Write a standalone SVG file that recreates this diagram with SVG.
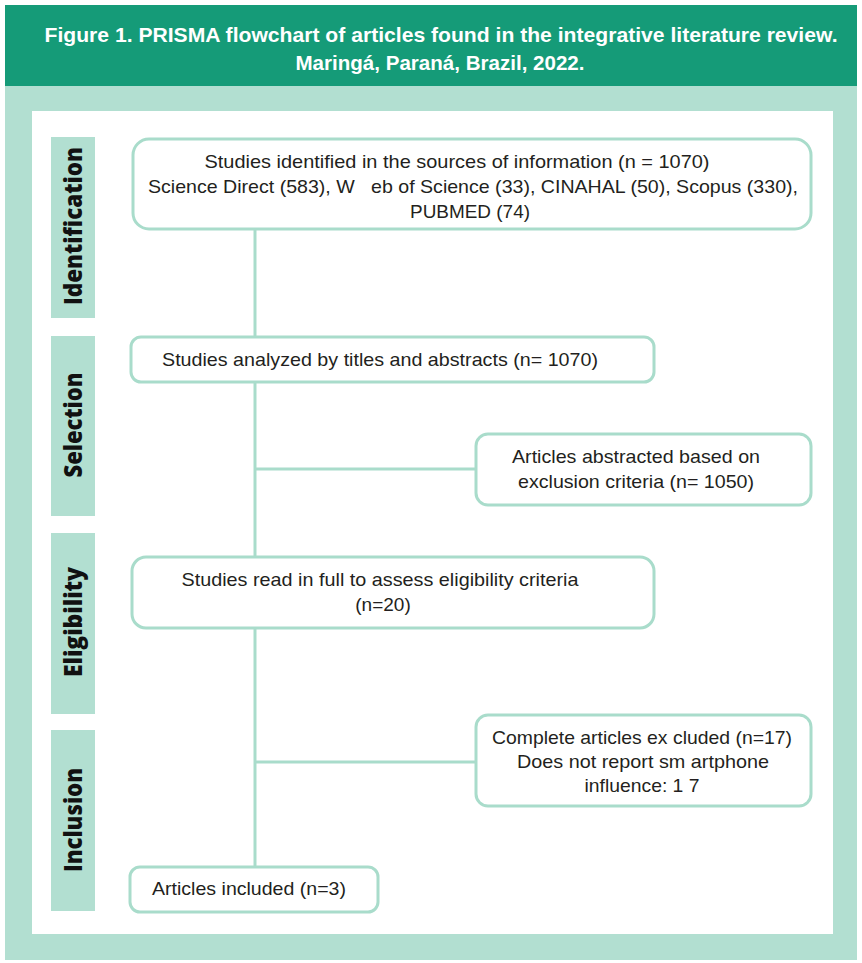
<svg xmlns="http://www.w3.org/2000/svg" width="862" height="963" viewBox="0 0 862 963">
<style>
.box{fill:#fff;stroke:#a9dccb;stroke-width:3}
.t{font-family:"Liberation Sans",Arial,sans-serif;font-size:19px;fill:#231f20;text-anchor:middle}
.side{fill:#b2dfd1}
.sl{font-family:"Open Sans","Liberation Sans",sans-serif;font-weight:800;font-size:24px;fill:#111;text-anchor:middle}
.title{font-family:"Liberation Sans",Arial,sans-serif;font-weight:bold;font-size:21px;fill:#fff;text-anchor:middle}
.conn{stroke:#a9dccb;stroke-width:3;fill:none}
</style>
<rect x="0" y="0" width="862" height="963" fill="#fff"/>
<rect x="5" y="85" width="852" height="875" fill="#b2dfd1"/>
<rect x="5" y="5" width="852" height="81" fill="#159b78"/>
<text class="title" x="441" y="42" textLength="793" lengthAdjust="spacingAndGlyphs">Figure 1. PRISMA flowchart of articles found in the integrative literature review.</text>
<text class="title" x="440" y="70" textLength="289" lengthAdjust="spacingAndGlyphs">Maringá, Paraná, Brazil, 2022.</text>
<rect x="32" y="111" width="801" height="823" fill="#fff"/>
<g id="stage-identification"><rect class="side" x="51" y="137" width="44" height="181"/><text class="sl" transform="translate(82,226) rotate(-90)" textLength="158" lengthAdjust="spacingAndGlyphs">Identification</text></g>
<g id="stage-selection"><rect class="side" x="51" y="336" width="44" height="180"/><text class="sl" transform="translate(82,425) rotate(-90)" textLength="105" lengthAdjust="spacingAndGlyphs">Selection</text></g>
<g id="stage-eligibility"><rect class="side" x="51" y="533" width="44" height="181"/><text class="sl" transform="translate(82,622) rotate(-90)" textLength="110" lengthAdjust="spacingAndGlyphs">Eligibility</text></g>
<g id="stage-inclusion"><rect class="side" x="51" y="730" width="44" height="181"/><text class="sl" transform="translate(82,820) rotate(-90)" textLength="104" lengthAdjust="spacingAndGlyphs">Inclusion</text></g>
<g id="connectors">
<line class="conn" x1="255" y1="229" x2="255" y2="337"/>
<line class="conn" x1="255" y1="382" x2="255" y2="557"/>
<line class="conn" x1="255" y1="469" x2="476" y2="469"/>
<line class="conn" x1="255" y1="628" x2="255" y2="867"/>
<line class="conn" x1="255" y1="762" x2="476" y2="762"/>
</g>
<g id="identified"><rect class="box" x="133" y="139" width="678" height="90" rx="16"/>
<text class="t" x="457" y="168" textLength="505" lengthAdjust="spacingAndGlyphs">Studies identified in the sources of information (n = 1070)</text>
<text class="t" x="473" y="193" textLength="650" lengthAdjust="spacingAndGlyphs" style="white-space:pre">Science Direct (583), W   eb of Science (33), CINAHAL (50), Scopus (330),</text>
<text class="t" x="470" y="218" textLength="120" lengthAdjust="spacingAndGlyphs">PUBMED (74)</text></g>
<g id="analyzed"><rect class="box" x="131" y="337" width="523" height="45" rx="10"/>
<text class="t" x="380" y="366" textLength="436" lengthAdjust="spacingAndGlyphs">Studies analyzed by titles and abstracts (n= 1070)</text></g>
<g id="abstracted"><rect class="box" x="476" y="434" width="335" height="71" rx="12"/>
<text class="t" x="636" y="463" textLength="248" lengthAdjust="spacingAndGlyphs">Articles abstracted based on</text>
<text class="t" x="636" y="488" textLength="236" lengthAdjust="spacingAndGlyphs">exclusion criteria (n= 1050)</text></g>
<g id="fulltext"><rect class="box" x="132" y="557" width="522" height="71" rx="14"/>
<text class="t" x="380" y="586" textLength="397" lengthAdjust="spacingAndGlyphs">Studies read in full to assess eligibility criteria</text>
<text class="t" x="383" y="611">(n=20)</text></g>
<g id="excluded"><rect class="box" x="476" y="715" width="335" height="91" rx="12"/>
<text class="t" x="642" y="744" textLength="300" lengthAdjust="spacingAndGlyphs">Complete articles ex cluded (n=17)</text>
<text class="t" x="643" y="768" textLength="252" lengthAdjust="spacingAndGlyphs">Does not report sm artphone</text>
<text class="t" x="642" y="792" textLength="115" lengthAdjust="spacingAndGlyphs">influence: 1 7</text></g>
<g id="included"><rect class="box" x="130" y="867" width="248" height="45" rx="10"/>
<text class="t" x="249" y="895" textLength="194" lengthAdjust="spacingAndGlyphs">Articles included (n=3)</text></g>
</svg>
